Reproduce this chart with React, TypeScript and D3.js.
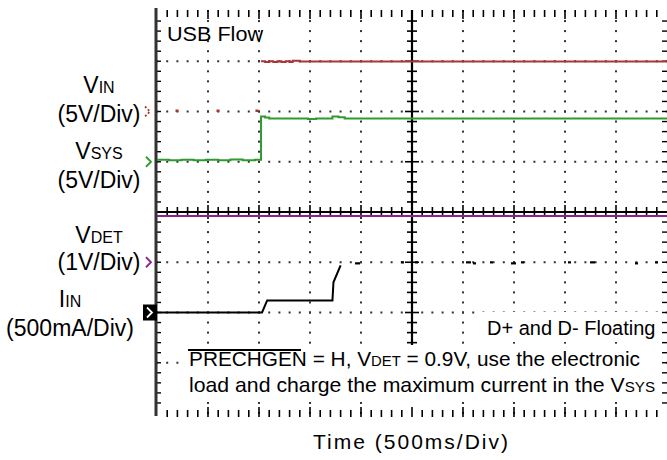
import React from "react";
import * as d3 from "d3";

// ---- data (time in ms, 500 ms/div) ----
const vinOffTime = [196, 598, 980];
const vinOffVolts = [0, 0, 0];
const vinTime = [1020, 1060, 1100, 1140, 1180, 1220, 1260, 1300, 1330, 1360, 1400, 5000];
const vinVolts = [5.0, 4.92, 5.0, 4.92, 5.0, 4.92, 5.0, 4.92, 5.05, 5.05, 4.97, 4.97];

const vsysTime = [0, 120, 240, 360, 480, 600, 720, 840, 960, 1020, 1060, 1100, 1400, 1480, 1560, 1720, 1780, 1840, 5000];
const vsysVolts = [0.2, 0.15, 0.2, 0.15, 0.2, 0.15, 0.22, 0.15, 0.2, 4.5, 4.4, 4.3, 4.3, 4.25, 4.3, 4.5, 4.42, 4.3, 4.3];

const vdetTime = [0, 5000];
const vdetVolts = [0.92, 0.92];

const iinTime = [0, 1030, 1080, 1720, 1730, 1800];
const iinAmps = [0, 0, 0.12, 0.12, 0.3, 0.47];
const iinDotTime = [1961, 2412, 2549, 3049, 3118, 3284, 3490, 3588, 4049, 4265, 4706, 4902];
const iinDotAmps = [0.49, 0.5, 0.5, 0.5, 0.49, 0.5, 0.49, 0.5, 0.5, 0.5, 0.49, 0.5];

const channelLabels = [
  { main: "V", sub: "IN", scale: "(5V/Div)" },
  { main: "V", sub: "SYS", scale: "(5V/Div)" },
  { main: "V", sub: "DET", scale: "(1V/Div)" },
  { main: "I", sub: "IN", scale: "(500mA/Div)" },
];

const COLORS = { vin: "#a83636", vsys: "#2f9a2f", vdet: "#8e2290", iin: "#000000" };
const FONT = "'Liberation Sans', Arial, sans-serif";

export default function App() {
  const W = 667, H = 460;
  const xT = d3.scaleLinear().domain([0, 5000]).range([157, 667]);
  const gx = d3.scaleLinear().domain([0, 10]).range([157, 667]);
  const gy = d3.scaleLinear().domain([-4, 4]).range([413, 11]);
  const yVin = (v: number) => gy(2 + v / 5);
  const yVsys = (v: number) => gy(1 + v / 5);
  const yVdet = (v: number) => gy(-1 + v / 1);
  const yIin = (a: number) => gy(-2 + a / 0.5);

  const stepLine = (ys: (v: number) => number) =>
    d3.line<[number, number]>().x((d) => xT(d[0])).y((d) => ys(d[1])).curve(d3.curveStepAfter);
  const linLine = (ys: (v: number) => number) =>
    d3.line<[number, number]>().x((d) => xT(d[0])).y((d) => ys(d[1]));

  const zip = (a: number[], b: number[]) => a.map((t, i) => [t, b[i]] as [number, number]);

  // graticule dots
  const dots: JSX.Element[] = [];
  [1, 2, 3, 4, 6, 7, 8, 9].forEach((i) => {
    for (let j = -20; j <= 20; j++) {
      dots.push(<rect key={`v${i}_${j}`} x={gx(i) - 1} y={gy(j / 5) - 1} width={2} height={2} fill="#333" />);
    }
  });
  [-3, -2, -1, 1, 2, 3].forEach((k) => {
    for (let j = 0; j <= 50; j++) {
      dots.push(<rect key={`h${k}_${j}`} x={gx(j / 5) - 1} y={gy(k) - 1} width={2} height={2} fill="#333" />);
    }
  });
  // edge ticks top/bottom + center horizontal ticks
  const ticks: JSX.Element[] = [];
  for (let j = 1; j < 50; j++) {
    const x = gx(j / 5);
    const major = j % 5 === 0;
    ticks.push(<line key={`tt${j}`} x1={x} x2={x} y1={10} y2={major ? 19 : 17} stroke="#000" strokeWidth={1.6} />);
    ticks.push(<line key={`tb${j}`} x1={x} x2={x} y1={major ? 407 : 410} y2={417} stroke="#000" strokeWidth={1.6} />);
    ticks.push(<line key={`tc${j}`} x1={x} x2={x} y1={gy(0) - (major ? 7 : 5)} y2={gy(0) + (major ? 7 : 5)} stroke="#000" strokeWidth={1.6} />);
  }
  for (let j = -19; j < 20; j++) {
    const y = gy(j / 5);
    const major = j % 5 === 0;
    ticks.push(<line key={`tl${j}`} x1={157} x2={161} y1={y} y2={y} stroke="#000" strokeWidth={1.4} />);
    ticks.push(<line key={`tr${j}`} x1={662} x2={667} y1={y} y2={y} stroke="#000" strokeWidth={1.4} />);
    if (y < 345) {
      ticks.push(<line key={`tv${j}`} x1={gx(5) - (major ? 7 : 5)} x2={gx(5) + (major ? 7 : 5)} y1={y} y2={y} stroke="#000" strokeWidth={1.6} />);
    }
  }

  const chevron = (x: number, y: number, color: string, dashed = false) => (
    <path d={`M${x},${y - 5} L${x + 5},${y} L${x},${y + 5}`} fill="none" stroke={color} strokeWidth={1.8}
      strokeDasharray={dashed ? "2,2" : undefined} />
  );

  const labelY = [
    { cx: 99, y1: 93, y2: 122 },
    { cx: 99, y1: 159, y2: 188 },
    { cx: 99, y1: 243, y2: 270 },
    { cx: 70, y1: 307, y2: 336 },
  ];

  return (
    <svg width={W} height={H} style={{ position: "absolute", left: 0, top: 0, background: "#fff" }}>
      <rect width={W} height={H} fill="#fff" />
      {dots}
      {ticks}
      {/* center axes */}
      <line x1={157} x2={667} y1={gy(0)} y2={gy(0)} stroke="#000" strokeWidth={2.2} />
      <line x1={gx(5)} x2={gx(5)} y1={10} y2={345} stroke="#000" strokeWidth={2.2} />
      {/* left border */}
      <line x1={156} x2={156} y1={8} y2={416} stroke="#333" strokeWidth={3} />

      {/* traces */}
      <path d={stepLine(yVdet)(zip(vdetTime, vdetVolts)) || ""} fill="none" stroke={COLORS.vdet} strokeWidth={2} />
      <path d={stepLine(yVin)(zip(vinTime, vinVolts)) || ""} fill="none" stroke={COLORS.vin} strokeWidth={2} />
      {vinOffTime.map((t, i) => (
        <rect key={`vo${i}`} x={xT(t) - 1.5} y={yVin(vinOffVolts[i]) - 2} width={3} height={2.5} fill={COLORS.vin} />
      ))}
      <path d={stepLine(yVsys)(zip(vsysTime, vsysVolts)) || ""} fill="none" stroke={COLORS.vsys} strokeWidth={2} />
      <path d={linLine(yIin)(zip(iinTime, iinAmps)) || ""} fill="none" stroke={COLORS.iin} strokeWidth={2} />
      {iinDotTime.map((t, i) => (
        <rect key={`id${i}`} x={xT(t) - 2} y={yIin(iinDotAmps[i]) - 1} width={i % 3 === 0 ? 5 : 3} height={2.2} fill="#000" />
      ))}

      {/* channel markers */}
      {chevron(145, yVin(0), COLORS.vin, true)}
      {chevron(146, yVsys(0), COLORS.vsys)}
      {chevron(146, yVdet(0), COLORS.vdet)}
      <rect x={143} y={yIin(0) - 8} width={14} height={16} fill="#000" />
      {chevron(147, yIin(0), "#fff")}

      {/* channel labels */}
      {channelLabels.map((c, i) => (
        <g key={`lab${i}`} fontFamily={FONT} fill="#000" textAnchor="middle">
          <text x={labelY[i].cx} y={labelY[i].y1} fontSize={23}>
            {c.main}
            <tspan fontSize={16} dy={0}>{c.sub}</tspan>
          </text>
          <text x={labelY[i].cx} y={labelY[i].y2} fontSize={23}>{c.scale}</text>
        </g>
      ))}

      <text x={167} y={41} fontFamily={FONT} fontSize={20} textLength={96} lengthAdjust="spacingAndGlyphs">USB  Flow</text>

      {/* annotations */}
      <rect x={482} y={312} width={180} height={30} fill="#fff" />
      <text x={487} y={335} fontFamily={FONT} fontSize={20}>D+ and D- Floating</text>
      <rect x={184} y={346} width={476} height={56} fill="#fff" />
      <line x1={188} x2={301} y1={350} y2={350} stroke="#000" strokeWidth={1.8} />
      <text x={189} y={366} fontFamily={FONT} fontSize={21} textLength={451} lengthAdjust="spacingAndGlyphs">
        PRECHGEN = H, V<tspan fontSize={15}>DET</tspan> = 0.9V, use the electronic
      </text>
      <text x={189} y={392} fontFamily={FONT} fontSize={21} textLength={466} lengthAdjust="spacingAndGlyphs">
        load and charge the maximum current in the V<tspan fontSize={15}>SYS</tspan>
      </text>
      <text x={313} y={449} fontFamily={FONT} fontSize={21} textLength={195} lengthAdjust="spacing">Time  (500ms/Div)</text>
    </svg>
  );
}
